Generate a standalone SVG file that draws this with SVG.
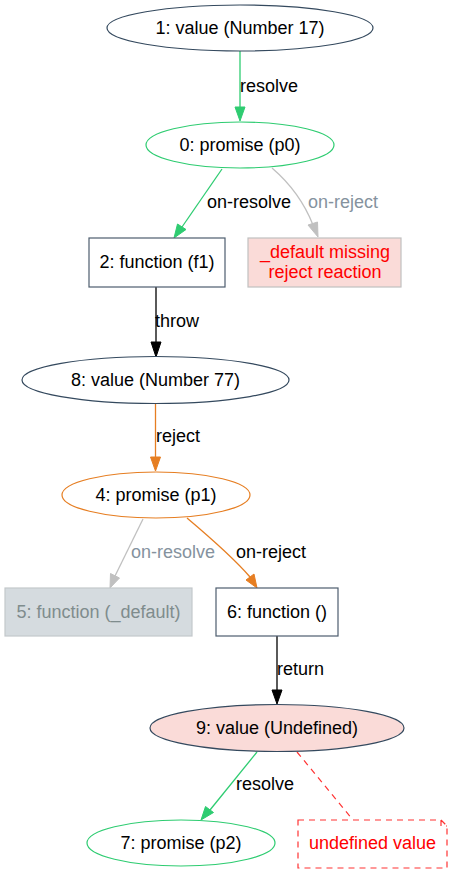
<svg xmlns="http://www.w3.org/2000/svg" width="453" height="873" viewBox="0 0 453 873">
<defs>
<style>
text{font-family:"Liberation Sans",Arial,Helvetica,sans-serif;font-size:18px;fill:#000}
.nt{text-anchor:middle}
.el{fill:#fff;stroke:#34495e;stroke-width:1.2}
.box{fill:#fff;stroke:#4d5d6e;stroke-width:1.2}
.g{stroke:#2ecc71;fill:none;stroke-width:1.3}
.o{stroke:#e67e22;fill:none;stroke-width:1.3}
.gr{stroke:#c0c0c0;fill:none;stroke-width:1.3}
.k{stroke:#000;fill:none;stroke-width:1.3}
.gl{fill:#85929e}
.red{fill:#ff0000}
</style>
</defs>
<rect width="453" height="873" fill="#fff"/>
<g id="connectors">
<g id="e1-0"><path class="g" d="M240,51 V108"/><polygon points="235,107 245,107 240,121" fill="#2ecc71" stroke="#2ecc71"/><text x="240" y="92">resolve</text></g>
<g id="e0-2"><path class="g" d="M222,169 L182,227"/><polygon points="177.5,224 186,229.5 174,238" fill="#2ecc71" stroke="#2ecc71"/><text x="207" y="208">on-resolve</text></g>
<g id="e0-d"><path class="gr" d="M272,168 Q300,192 313,225"/><polygon points="308,225 317.5,222 318,237" fill="#c0c0c0" stroke="#c0c0c0"/><text class="gl" x="308" y="208">on-reject</text></g>
<g id="e2-8"><path class="k" d="M156,287 V343"/><polygon points="151,342 161,342 156,357" fill="#000" stroke="#000"/><text x="155" y="327">throw</text></g>
<g id="e8-4"><path class="o" d="M155.5,404 V458"/><polygon points="150.5,457 160.5,457 155.5,471" fill="#e67e22" stroke="#e67e22"/><text x="156" y="442">reject</text></g>
<g id="e4-5"><path class="gr" d="M143,519 L115,576"/><polygon points="110.5,573.5 119.5,578 110,588" fill="#c0c0c0" stroke="#c0c0c0"/><text class="gl" x="131" y="558">on-resolve</text></g>
<g id="e4-6"><path class="o" d="M187,518 Q232,556 250,577"/><polygon points="246,580 254,574 257,588" fill="#e67e22" stroke="#e67e22"/><text x="236" y="558">on-reject</text></g>
<g id="e6-9"><path class="k" d="M277,636 V691"/><polygon points="272,690 282,690 277,704" fill="#000" stroke="#000"/><text x="277" y="675">return</text></g>
<g id="e9-7"><path class="g" d="M257,752 L210,810"/><polygon points="205.5,806.5 213.5,812.5 201,820" fill="#2ecc71" stroke="#2ecc71"/><text x="236" y="790">resolve</text></g>
<g id="e9-n"><path d="M297,752 L353,820" fill="none" stroke="#ff3333" stroke-width="1.2" stroke-dasharray="6,5"/></g>
</g>
<g id="n1"><ellipse class="el" cx="240" cy="28" rx="133" ry="23"/><text class="nt" x="240" y="34">1: value (Number 17)</text></g>
<g id="n0"><ellipse class="el" cx="240" cy="145" rx="94" ry="23" style="stroke:#2ecc71"/><text class="nt" x="240" y="151">0: promise (p0)</text></g>
<g id="n2"><rect class="box" x="89" y="238" width="136" height="49"/><text class="nt" x="157" y="268">2: function (f1)</text></g>
<g id="nd"><rect x="248" y="238" width="153" height="49" fill="#fadbd8" stroke="#c0c0c0" stroke-width="1.2"/><text class="nt red" x="325" y="258">_default missing</text><text class="nt red" x="325" y="278">reject reaction</text></g>
<g id="n8"><ellipse class="el" cx="155.5" cy="380" rx="133.5" ry="23.5"/><text class="nt" x="155.5" y="386">8: value (Number 77)</text></g>
<g id="n4"><ellipse class="el" cx="156" cy="495" rx="94" ry="23" style="stroke:#e67e22"/><text class="nt" x="156" y="501">4: promise (p1)</text></g>
<g id="n5"><rect x="5" y="588" width="187" height="48" fill="#d5dbdf" stroke="#c4c8cb" stroke-width="1.2"/><text class="nt" x="98.5" y="618" style="fill:#7f8c8d">5: function (_default)</text></g>
<g id="n6"><rect class="box" x="216" y="588" width="122" height="48"/><text class="nt" x="277" y="618">6: function ()</text></g>
<g id="n9"><ellipse cx="277" cy="728" rx="127" ry="23.5" fill="#fadbd8" stroke="#34495e" stroke-width="1.2"/><text class="nt" x="277" y="734">9: value (Undefined)</text></g>
<g id="n7"><ellipse class="el" cx="181" cy="843" rx="94" ry="23" style="stroke:#2ecc71"/><text class="nt" x="181" y="849">7: promise (p2)</text></g>
<g id="note"><path d="M298,820 H441 L447,826 V868 H298 Z M441,820 V826 H447" fill="#fff" stroke="#ff3333" stroke-width="1.2" stroke-dasharray="6,5"/><text class="nt red" x="372.5" y="849">undefined value</text></g>
</svg>
